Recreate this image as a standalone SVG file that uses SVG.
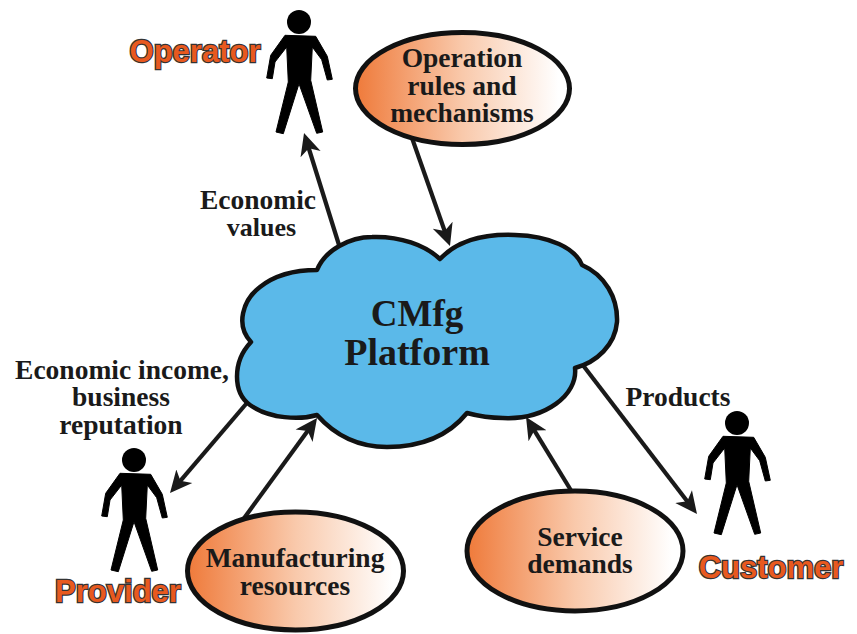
<svg xmlns="http://www.w3.org/2000/svg" width="857" height="634" viewBox="0 0 857 634">
<style>
.lb{font-family:"Liberation Serif",serif;font-weight:bold;font-size:27.500px;fill:#1a1a1a;text-anchor:middle}
.role{font-family:"Liberation Sans",sans-serif;font-weight:bold;font-size:31px;fill:#e8591f;stroke:#333;stroke-width:2.400px;text-anchor:middle;paint-order:stroke}
.ell{fill:url(#g);stroke:#111;stroke-width:5}
.con{fill:none;stroke:#1a1a1a;stroke-width:4.200;marker-end:url(#a)}
</style>
<defs>
<linearGradient id="g" x1="0" y1="0" x2="1" y2="0"><stop offset="0" stop-color="#ef7a3a"/><stop offset="0.5" stop-color="#f9c9ab"/><stop offset="0.95" stop-color="#ffffff"/></linearGradient>
<marker id="a" markerUnits="userSpaceOnUse" markerWidth="26" markerHeight="26" viewBox="0 -13 26 26" refX="10" refY="0" orient="auto"><path d="M0,-10.500 L22,0 L0,10.500 L6,0 Z" fill="#1a1a1a"/></marker>
<g id="person"><circle cx="0" cy="0" r="12" fill="#000"/><polygon fill="#000" stroke="#000" stroke-width="1" stroke-linejoin="round" points="-14,13.3 16.7,14.3 28.3,34.3 33.3,57.3 28.3,58 22.7,37.7 13.3,25 11.7,58.3 23.7,110 17.7,111.3 0,61.7 -15.700,111.7 -23,110 -10.700,60 -12.300,25 -24,40 -26.700,56.7 -32.300,56 -28.300,33.3"/></g>
</defs>
<g id="connectors">
<line class="con" x1="339" y1="245" x2="307.600" y2="144.500"/>
<line class="con" x1="412" y1="138" x2="446" y2="234.700"/>
<line class="con" x1="252" y1="397" x2="177.800" y2="483.900"/>
<line class="con" x1="242" y1="521" x2="310" y2="427.700"/>
<line class="con" x1="572" y1="492" x2="532.300" y2="427.200"/>
<line class="con" x1="582" y1="364" x2="689.700" y2="504.500"/>
</g>
<g id="cloud">
<path d="M440,259 C460,238 490,234 515,235 C550,236 575,248 582,265 C605,275 618,298 617,322 C615,345 597,362 575,368 C578,395 545,420 503,418 C490,418 478,416 467,413 C445,440 415,447 387,447 C355,447 332,432 317,415 C300,420 270,419 250,405 C233,393 232,362 251,342 C235,325 243,300 260,287 C275,275 295,270 317,270 C325,250 350,237 372,237 C400,236 425,245 440,259 Z" fill="#5bb9e9" stroke="#111" stroke-width="4.500" stroke-linejoin="round"/>
<text class="lb" x="417" y="326" style="font-size:37px">CMfg</text>
<text class="lb" x="417" y="365" style="font-size:38px">Platform</text>
</g>
<g id="operation-rules"><ellipse class="ell" cx="462.500" cy="88.500" rx="107" ry="56"/><text class="lb" x="462" y="67">Operation</text><text class="lb" x="462" y="95">rules and</text><text class="lb" x="462" y="122">mechanisms</text></g>
<g id="manufacturing-resources"><ellipse class="ell" cx="295.500" cy="571" rx="108" ry="59"/><text class="lb" x="295" y="567">Manufacturing</text><text class="lb" x="295" y="595">resources</text></g>
<g id="service-demands"><ellipse class="ell" cx="575" cy="551" rx="108" ry="60"/><text class="lb" x="580" y="546">Service</text><text class="lb" x="580" y="573">demands</text></g>
<g id="operator"><use href="#person" x="299" y="22"/><text class="role" x="195" y="62">Operator</text></g>
<g id="provider"><use href="#person" x="134" y="460"/><text class="role" x="118" y="602">Provider</text></g>
<g id="customer"><use href="#person" x="737" y="423"/><text class="role" x="771" y="578">Customer</text></g>
<g id="label-economic-values"><text class="lb" x="258" y="209">Economic</text><text class="lb" x="261.500" y="236" style="font-size:26px">values</text></g>
<g id="label-income"><text class="lb" x="122" y="379">Economic income,</text><text class="lb" x="121" y="406">business</text><text class="lb" x="121" y="434">reputation</text></g>
<g id="label-products"><text class="lb" x="678" y="406">Products</text></g>
</svg>
